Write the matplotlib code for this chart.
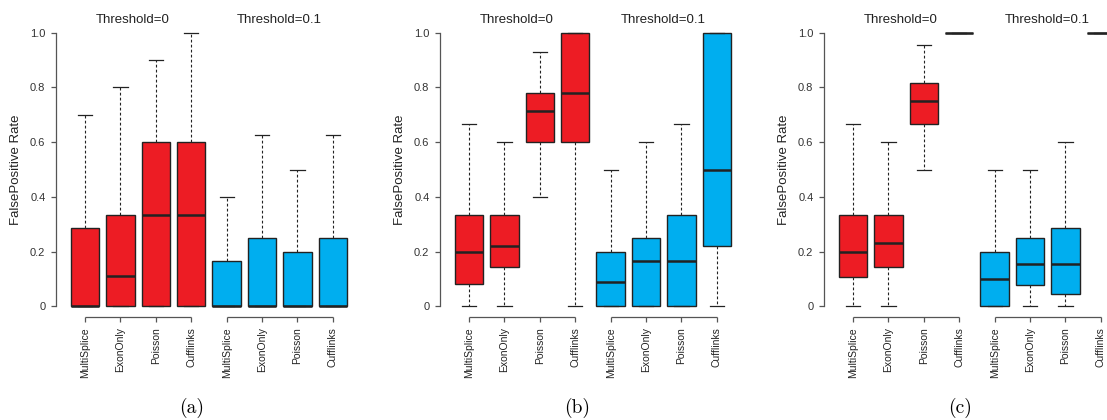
import matplotlib
matplotlib.use("Agg")
import matplotlib.pyplot as plt

methods = ["MultiSplice", "ExonOnly", "Poisson", "Cufflinks"]
group_titles = ["Threshold=0", "Threshold=0.1"]
panel_labels = ["(a)", "(b)", "(c)"]
yticks = [0, 0.2, 0.4, 0.6, 0.8, 1.0]
ytick_labels = ["0", "0.2", "0.4", "0.6", "0.8", "1.0"]

# each entry: [whisker_low, q1, median, q3, whisker_high]
panel_a_t0 = [[0, 0, 0, 0.285, 0.70],
              [0, 0, 0.11, 0.333, 0.80],
              [0, 0, 0.333, 0.60, 0.90],
              [0, 0, 0.333, 0.60, 1.00]]
panel_a_t01 = [[0, 0, 0, 0.167, 0.40],
               [0, 0, 0, 0.25, 0.625],
               [0, 0, 0, 0.20, 0.50],
               [0, 0, 0, 0.25, 0.625]]
panel_b_t0 = [[0, 0.083, 0.20, 0.333, 0.667],
              [0, 0.143, 0.222, 0.333, 0.60],
              [0.40, 0.60, 0.714, 0.778, 0.93],
              [0, 0.60, 0.778, 1.00, 1.00]]
panel_b_t01 = [[0, 0, 0.09, 0.20, 0.50],
               [0, 0, 0.167, 0.25, 0.60],
               [0, 0, 0.167, 0.333, 0.667],
               [0, 0.222, 0.50, 1.00, 1.00]]
panel_c_t0 = [[0, 0.108, 0.20, 0.333, 0.667],
              [0, 0.143, 0.23, 0.333, 0.60],
              [0.50, 0.667, 0.75, 0.818, 0.956],
              [1.0, 1.0, 1.0, 1.0, 1.0]]
panel_c_t01 = [[0, 0, 0.10, 0.20, 0.50],
               [0, 0.077, 0.154, 0.25, 0.50],
               [0, 0.046, 0.154, 0.286, 0.60],
               [1.0, 1.0, 1.0, 1.0, 1.0]]

panels = [(panel_a_t0, panel_a_t01), (panel_b_t0, panel_b_t01), (panel_c_t0, panel_c_t01)]

RED = "#ED1C24"
BLUE = "#00AEEF"
EDGE = "#222222"
AXC = "#555555"

plt.rcParams['font.family'] = ['Liberation Sans', 'DejaVu Sans']

W, H = 1107, 420
fig = plt.figure(figsize=(W / 100, H / 100), dpi=100)

unit = 35.4
axis_left_px = [56, 440, 824]
ax_w = 8.64 * unit
top_px = 21.8
bot_px = 317.2

def stats_of(vals):
    lo, q1, med, q3, hi = vals
    return dict(whislo=lo, q1=q1, med=med, q3=q3, whishi=hi, fliers=[])

for pi, (g0, g1) in enumerate(panels):
    left = axis_left_px[pi] / W
    ax = fig.add_axes([left, 1 - bot_px / H, ax_w / W, (bot_px - top_px) / H])
    ax.set_xlim(0.18, 8.82)
    ax.set_ylim(-0.04, 1.04)
    for gi, (grp, col) in enumerate([(g0, RED), (g1, BLUE)]):
        positions = [gi * 4 + k + 1 for k in range(4)]
        stats = [stats_of(v) for v in grp]
        ax.bxp(stats, positions=positions, widths=0.8, patch_artist=True,
               showfliers=False, manage_ticks=False,
               boxprops=dict(facecolor=col, edgecolor=EDGE, linewidth=1.0),
               medianprops=dict(color=EDGE, linewidth=1.8),
               whiskerprops=dict(color=EDGE, linewidth=0.8, linestyle=(0, (2.5, 2))),
               capprops=dict(color=EDGE, linewidth=0.9),
               capwidths=0.4)
        # group bracket
        ax.plot([positions[0], positions[-1]], [-0.04, -0.04], color=AXC,
                linewidth=0.9, clip_on=False, solid_capstyle='butt')
        ax.text(2.35 if gi == 0 else 6.5, 1.047, group_titles[gi], ha='center',
                va='center', fontsize=9.5, color="#222222", transform=ax.transData)
    for s in ['top', 'right', 'bottom']:
        ax.spines[s].set_visible(False)
    ax.spines['left'].set_bounds(0, 1)
    ax.spines['left'].set_color(AXC)
    ax.spines['left'].set_linewidth(0.9)
    ax.set_yticks(yticks)
    ax.set_yticklabels(ytick_labels)
    ax.tick_params(axis='y', direction='out', length=3.6, width=0.9, color=AXC,
                   labelsize=8, labelcolor="#333333", pad=4)
    ax.set_xticks(range(1, 9))
    ax.set_xticklabels(methods + methods, rotation=90, va='top', ha='center')
    ax.tick_params(axis='x', direction='out', length=3.6, width=0.9, color=AXC,
                   labelsize=7.5, labelcolor="#222222", pad=3.5)
    ax.set_ylabel("FalsePositive Rate", fontsize=9.5, color="#222222", labelpad=6)
    ax.patch.set_alpha(0)

caption_x = [192, 577, 960]
for lbl, cx in zip(panel_labels, caption_x):
    fig.text(cx / W, 1 - 408 / H, lbl, ha='center', va='center', fontsize=14,
             family=['cmr10', 'DejaVu Serif'])

fig.savefig("out.png", dpi=100)
